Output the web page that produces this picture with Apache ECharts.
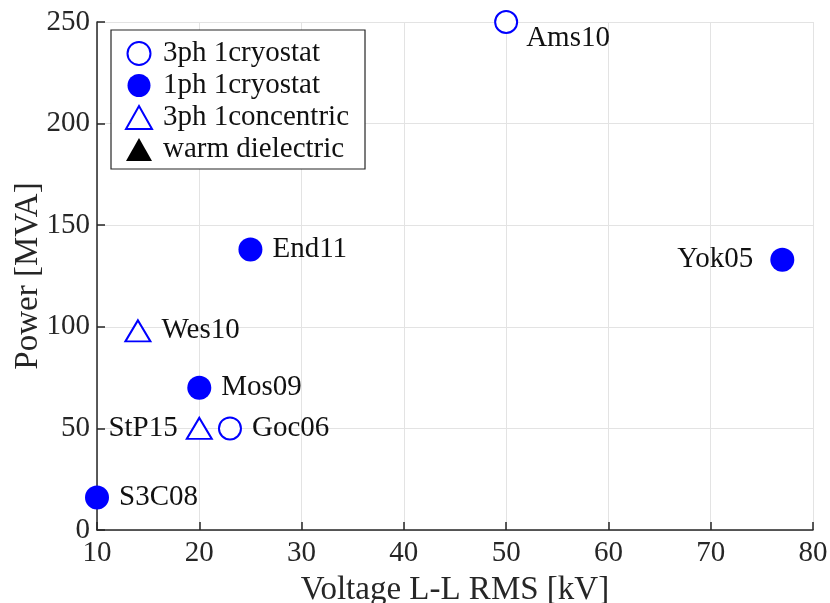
<!DOCTYPE html>
<html>
<head>
<meta charset="utf-8">
<script src="https://cdn.jsdelivr.net/npm/echarts@6/dist/echarts.min.js"></script>
<style>
  html, body { margin: 0; padding: 0; background: #fff; }
  #chart { width: 830px; height: 603px; }
</style>
</head>
<body>
<div id="chart"></div>
<script>
// Cable projects: line-to-line voltage [kV] vs. rated power [MVA]
const seriesNames = ['3ph 1cryostat', '1ph 1cryostat', '3ph 1concentric', 'warm dielectric'];

const cryo3phNames = ['Ams10', 'Goc06'];
const cryo3phKV    = [50, 23];
const cryo3phMVA   = [250, 50];

const cryo1phNames = ['Yok05', 'End11', 'Mos09', 'S3C08'];
const cryo1phKV    = [77, 25, 20, 10];
const cryo1phMVA   = [133, 138, 70, 16];

const conc3phNames = ['Wes10', 'StP15'];
const conc3phKV    = [14, 20];
const conc3phMVA   = [98, 50];

const warmNames = [];
const warmKV    = [];
const warmMVA   = [];

const xTicks = [10, 20, 30, 40, 50, 60, 70, 80];
const yTicks = [0, 50, 100, 150, 200, 250];

const FONT = '"Liberation Serif", "Times New Roman", serif';
const TXT = '#262626';
const BLUE = '#0000ff';

// label placement for individual projects
const labelSide = {
  Ams10: { position: 'right', offset: [-2, 16] },
  Yok05: { position: 'left', offset: [-7, 0] },
  StP15: { position: 'left', offset: [2, 0] }
};

function points(names, xs, ys) {
  return names.map((n, i) => {
    const p = { name: n, value: [xs[i], ys[i]] };
    if (labelSide[n]) p.label = labelSide[n];
    return p;
  });
}

const labelStyle = {
  show: true,
  position: 'right',
  distance: 10,
  formatter: p => p.name,
  color: '#111',
  fontFamily: FONT,
  fontSize: 29
};

const chart = echarts.init(document.getElementById('chart'), null, { renderer: 'canvas' });

chart.setOption({
  animation: false,
  backgroundColor: '#fff',
  grid: { left: 97, right: 17, top: 22, bottom: 73, containLabel: false, outerBoundsMode: 'none' },
  xAxis: {
    type: 'value',
    min: xTicks[0],
    max: xTicks[xTicks.length - 1],
    interval: 10,
    name: 'Voltage L-L RMS [kV]',
    nameLocation: 'middle',
    nameGap: 44,
    nameMoveOverlap: false,
    nameTextStyle: { color: TXT, fontFamily: FONT, fontSize: 33 },
    axisLine: { show: true, onZero: false, lineStyle: { color: TXT, width: 1.5 } },
    axisTick: { show: true, inside: true, length: 8, lineStyle: { color: TXT, width: 1.5 } },
    axisLabel: { color: TXT, fontFamily: FONT, fontSize: 29, margin: 9 },
    splitLine: { show: true, lineStyle: { color: '#e3e3e3', width: 1 } }
  },
  yAxis: {
    type: 'value',
    min: yTicks[0],
    max: yTicks[yTicks.length - 1],
    interval: 50,
    name: 'Power [MVA]',
    nameLocation: 'middle',
    nameGap: 52,
    nameMoveOverlap: false,
    nameTextStyle: { color: TXT, fontFamily: FONT, fontSize: 33 },
    axisLine: { show: true, onZero: false, lineStyle: { color: TXT, width: 1.5 } },
    axisTick: { show: true, inside: true, length: 8, lineStyle: { color: TXT, width: 1.5 } },
    axisLabel: { color: TXT, fontFamily: FONT, fontSize: 29, margin: 7 },
    splitLine: { show: true, lineStyle: { color: '#e3e3e3', width: 1 } }
  },
  legend: {
    orient: 'vertical',
    left: 111,
    top: 30,
    padding: [9, 16, 5, 14],
    itemGap: 3,
    itemWidth: 26,
    itemHeight: 23,
    borderColor: TXT,
    borderWidth: 1.2,
    backgroundColor: '#fff',
    textStyle: { color: '#111', fontFamily: FONT, fontSize: 29, padding: [0, 0, 0, 6] },
    data: seriesNames.map(n => ({ name: n }))
  },
  series: [
    {
      name: seriesNames[0],
      type: 'scatter',
      symbol: 'circle',
      symbolSize: 22,
      itemStyle: { color: '#fff', borderColor: BLUE, borderWidth: 2, opacity: 1 },
      label: labelStyle,
      data: points(cryo3phNames, cryo3phKV, cryo3phMVA),
      z: 5
    },
    {
      name: seriesNames[1],
      type: 'scatter',
      symbol: 'circle',
      symbolSize: 24,
      itemStyle: { color: BLUE, borderWidth: 0, opacity: 1 },
      label: labelStyle,
      data: points(cryo1phNames, cryo1phKV, cryo1phMVA),
      z: 5
    },
    {
      name: seriesNames[2],
      type: 'scatter',
      symbol: 'triangle',
      symbolSize: [25, 21],
      itemStyle: { color: '#fff', borderColor: BLUE, borderWidth: 2, opacity: 1 },
      label: labelStyle,
      data: points(conc3phNames, conc3phKV, conc3phMVA),
      z: 5
    },
    {
      name: seriesNames[3],
      type: 'scatter',
      symbol: 'triangle',
      symbolSize: [27, 23],
      itemStyle: { color: '#000', opacity: 1 },
      label: labelStyle,
      data: points(warmNames, warmKV, warmMVA),
      z: 5
    }
  ]
});
</script>
</body>
</html>
